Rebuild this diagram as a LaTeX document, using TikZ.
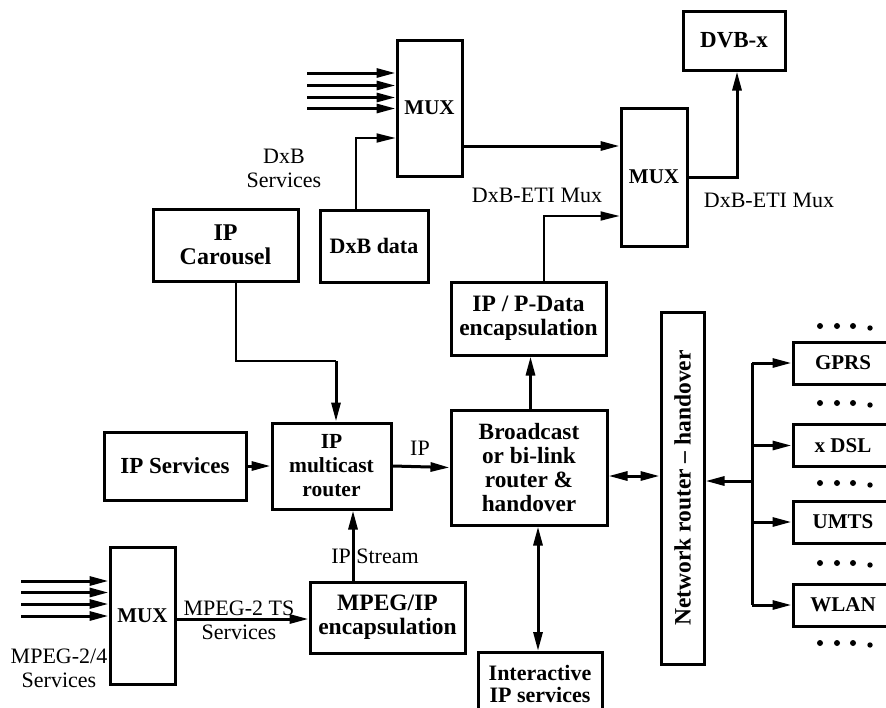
\documentclass[tikz,border=0pt]{standalone}
\usepackage{fontspec}
\setmainfont{Liberation Serif}
\usetikzlibrary{arrows.meta}
\newcommand{\fsz}[1]{\fontsize{#1}{24}\selectfont}
\begin{document}
\begin{tikzpicture}[x=1pt,y=-1pt,
  every node/.style={font=\fsz{22}, inner sep=0pt},
  blk/.style={draw, line width=3pt, align=center, font=\fsz{21}\bfseries},
  lbl/.style={align=center},
  conn/.style={line width=3pt},
  thinconn/.style={line width=1.8pt},
  arr/.style={conn, -{Triangle[length=19pt,width=9pt]}},
  thinarr/.style={thinconn, -{Triangle[length=19pt,width=9pt]}},
  darr/.style={conn, {Triangle[length=19pt,width=9pt]}-{Triangle[length=19pt,width=9pt]}},
]
\useasboundingbox (0,0) rectangle (886,707);

% blocks
\node[blk, minimum width=65pt, minimum height=136pt] (mux1) at (429.5,108) {MUX};
\node[blk, minimum width=66pt, minimum height=138pt] (mux2) at (654,177) {MUX};
\node[blk, minimum width=102pt, minimum height=59pt, font=\fsz{23}\bfseries] (dvb) at (734,40.5) {DVB-x};
\node[blk, minimum width=108pt, minimum height=72pt, font=\fsz{22}\bfseries] (dxbdata) at (374,246) {DxB data};
\node[blk, minimum width=145pt, minimum height=72pt, font=\fsz{24}\bfseries] (carousel) at (225.5,245) {IP\\Carousel};
\node[blk, minimum width=155pt, minimum height=73pt, font=\fsz{23.5}\bfseries] (ipdata) at (528.5,318.5) {IP / P-Data\\encapsulation};
\node[blk, minimum width=119pt, minimum height=86pt, font=\fsz{21.5}\bfseries] (ipmc) at (331.5,466) {IP\\multicast\\router};
\node[blk, minimum width=142pt, minimum height=68pt, font=\fsz{23}\bfseries] (ipserv) at (175,466) {IP Services};
\node[blk, minimum width=156pt, minimum height=115pt, font=\fsz{23.3}\bfseries] (bcast) at (529,467.5) {Broadcast\\or bi-link\\router \&\\handover};
\node[blk, minimum width=43pt, minimum height=352pt] (netr) at (682.5,488) {};
\node[font=\fsz{23.5}\bfseries, rotate=90] (netrtext) at (netr.center) {Network router -- handover};
\node[blk, minimum width=100pt, minimum height=42pt] (gprs) at (843,363) {GPRS};
\node[blk, minimum width=100pt, minimum height=42pt] (xdsl) at (843,445.5) {x DSL};
\node[blk, minimum width=100pt, minimum height=42pt] (umts) at (843,522) {UMTS};
\node[blk, minimum width=100pt, minimum height=42pt] (wlan) at (843,605) {WLAN};
\node[blk, minimum width=65pt, minimum height=137pt] (mux3) at (142.5,615.5) {MUX};
\node[blk, minimum width=155pt, minimum height=71pt, font=\fsz{23.5}\bfseries] (mpegip) at (387.5,617.5) {MPEG/IP\\encapsulation};
\node[blk, minimum width=124pt, minimum height=62pt, anchor=north, font=\fontsize{22}{22}\selectfont\bfseries] (inter) at (540,651) {Interactive\\IP services};

% plain labels
\node[lbl] (dxbserv) at (284,168) {DxB\\Services};
\node[lbl] (etil) at (537,195) {DxB-ETI Mux};
\node[lbl] (etir) at (769,200) {DxB-ETI Mux};
\node[lbl] (iplbl) at (420,448) {IP};
\node[lbl] (ipstream) at (375,556) {IP Stream};
\node[lbl] (tslbl) at (239,620) {MPEG-2 TS\\Services};
\node[lbl] (mpeg24) at (59,668) {MPEG-2/4\\Services};

% service inputs of the upper multiplexer
\foreach \yy [count=\i] in {73,85.5,97.5,108.5} {
  \coordinate (ua\i) at (307,\yy);
  \draw[arr] (ua\i) -- (ua\i -| mux1.west);
}
% service inputs of the lower multiplexer
\foreach \yy [count=\i] in {581,592.5,604,616} {
  \coordinate (la\i) at (21,\yy);
  \draw[arr] (la\i) -- (la\i -| mux3.west);
}

% DxB chain
\draw[thinarr] ([xshift=-18pt]dxbdata.north) |- ([yshift=-30pt]mux1.west);
\draw[arr] ([yshift=-38pt]mux1.east) -- ([yshift=-38pt]mux1.east -| mux2.west);
\draw[thinarr] ([xshift=15.5pt]ipdata.north) |- ([yshift=-39pt]mux2.west);
\draw[arr] (mux2.east) -| ([xshift=3pt]dvb.south);

% IP side
\coordinate (cbend) at (336,361);
\draw[thinconn] ([xshift=10.5pt]carousel.south) |- (cbend);
\draw[arr] (cbend) -- (cbend |- ipmc.north);
\draw[arr] (ipserv.east) -- (ipmc.west);
\draw[arr] (ipmc.east) -- (bcast.west);
\draw[arr] ([xshift=-34.5pt]mpegip.north) -- ([xshift=-34.5pt]mpegip.north |- ipmc.south);
\draw[arr] ([yshift=-3.5pt]mux3.east) -- ([yshift=-3.5pt]mux3.east -| mpegip.west);
\draw[arr] ([xshift=1.5pt]bcast.north) -- ([xshift=1.5pt]bcast.north |- ipdata.south);
\draw[darr] ([yshift=-8.5pt]bcast.east) -- ([yshift=-8.5pt]bcast.east -| netr.west);
\draw[darr] ([xshift=9pt]bcast.south) -- ([xshift=9pt]bcast.south |- inter.north);

% access networks bus
\coordinate (busx) at (752,0);
\coordinate (bus) at (753,481);
\draw[arr] (bus) -- (bus -| netr.east);
\draw[conn] (busx |- gprs.west) -- (busx |- wlan.west);
\foreach \n in {gprs,xdsl,umts,wlan}
  \draw[arr] (busx |- \n.west) -- (\n.west);

% dotted separators
\foreach \yy in {326,403,483,563,643} {
  \foreach \xx in {820,837,853} \fill (\xx,\yy) circle (3pt);
  \fill (870,\yy+2) circle (2.7pt);
}
\end{tikzpicture}
\end{document}
